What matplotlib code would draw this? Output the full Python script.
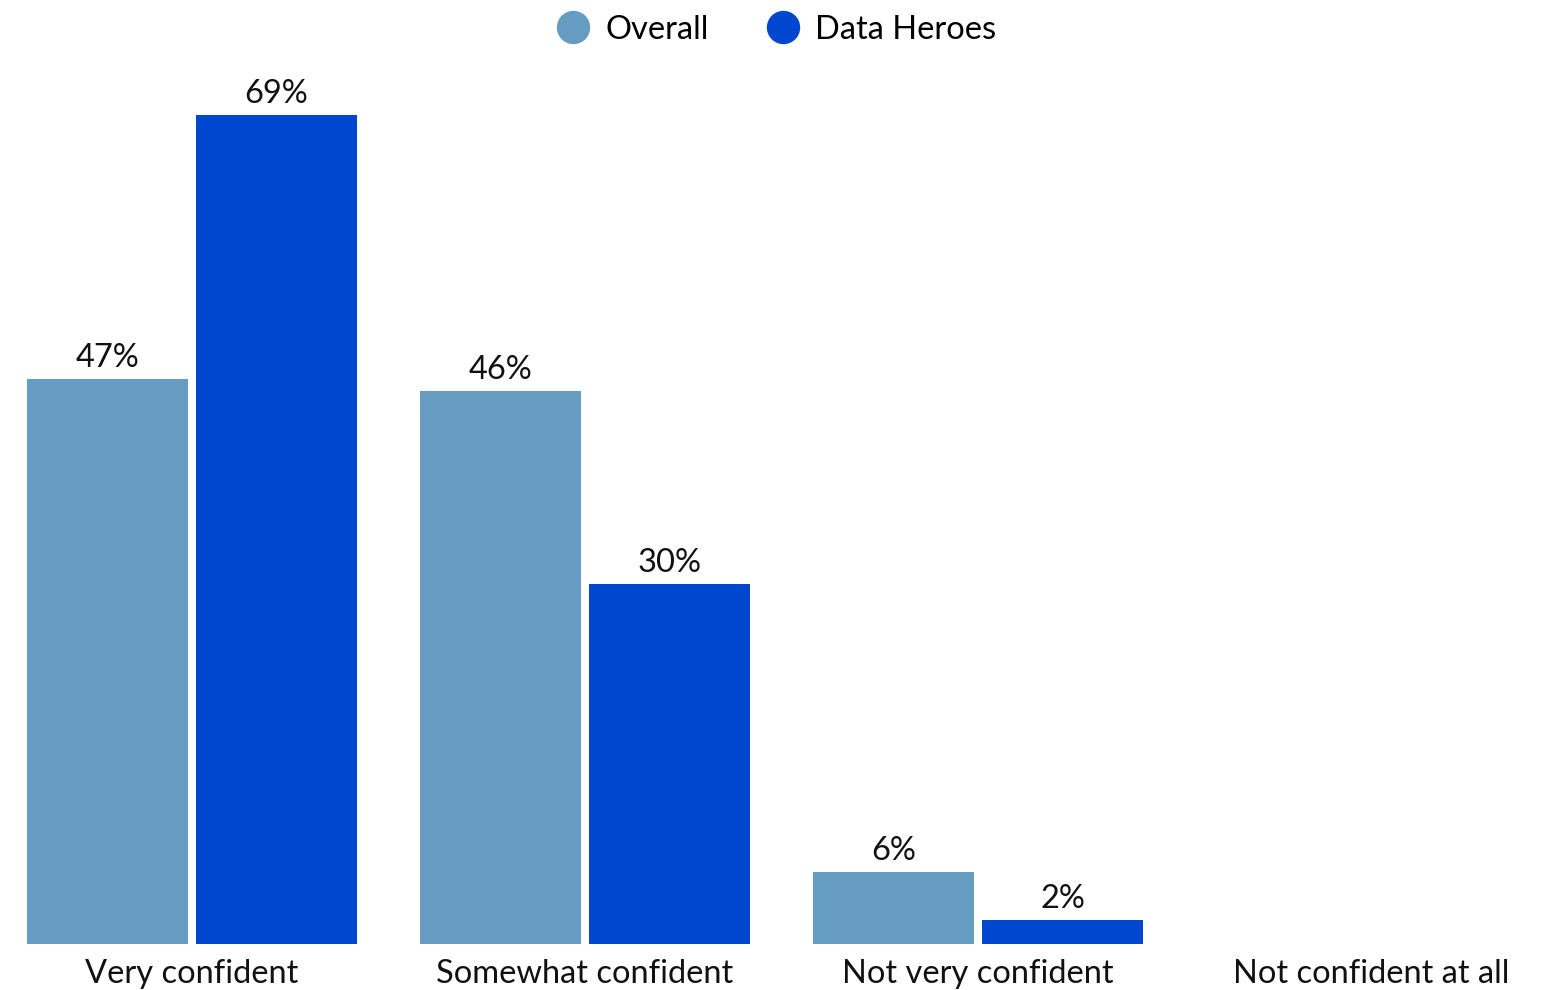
import numpy as np
import matplotlib.pyplot as plt
from matplotlib.lines import Line2D

# === Data ===
categories = ["Very confident", "Somewhat confident", "Not very confident", "Not confident at all"]
overall = [47, 46, 6, 0]
data_heroes = [69, 30, 2, 0]
series_names = ["Overall", "Data Heroes"]
colors = ["#669BC2", "#0047CF"]

plt.rcParams['font.family'] = ['Lato', 'DejaVu Sans']
FS = 23.5

W, H = 1553, 990
fig = plt.figure(figsize=(W / 100, H / 100), dpi=100)

# axes placed in pixel terms: bars sit on y=944, left edge at x=27
px_per_unit = 393
left_px, right_px = 27, 1536
top_px, base_px = 60, 944
ax = fig.add_axes([left_px / W, 1 - base_px / H,
                   (right_px - left_px) / W, (base_px - top_px) / H])

x = np.arange(len(categories))
bw = 161 / px_per_unit
off = 84.5 / px_per_unit

for vals, shift, c in [(overall, -off, colors[0]), (data_heroes, off, colors[1])]:
    bars = ax.bar(x + shift, vals, width=bw, color=c, linewidth=0)
    for b, v in zip(bars, vals):
        if v > 0:
            ax.text(b.get_x() + b.get_width() / 2, v + 0.5, f"{v}%",
                    ha="center", va="bottom", fontsize=FS, color="#111111")

ax.set_xlim(-165 / px_per_unit, 3 + 165 / px_per_unit)
ax.set_ylim(0, (base_px - top_px) / 12.014)
ax.set_xticks(x)
ax.set_xticklabels(categories, fontsize=FS, color="#111111")
ax.tick_params(axis="x", length=0, pad=11)
ax.set_yticks([])
for s in ax.spines.values():
    s.set_visible(False)

handles = [Line2D([], [], marker="o", linestyle="none", markersize=23,
                  markerfacecolor=c, markeredgecolor=c) for c in colors]
fig.legend(handles, series_names, loc="upper center", bbox_to_anchor=(0.5, 1.015),
           ncol=2, frameon=False, fontsize=FS, handlelength=1.0,
           handletextpad=0.5, columnspacing=1.75)

plt.savefig("out.png", dpi=100)
plt.close()
